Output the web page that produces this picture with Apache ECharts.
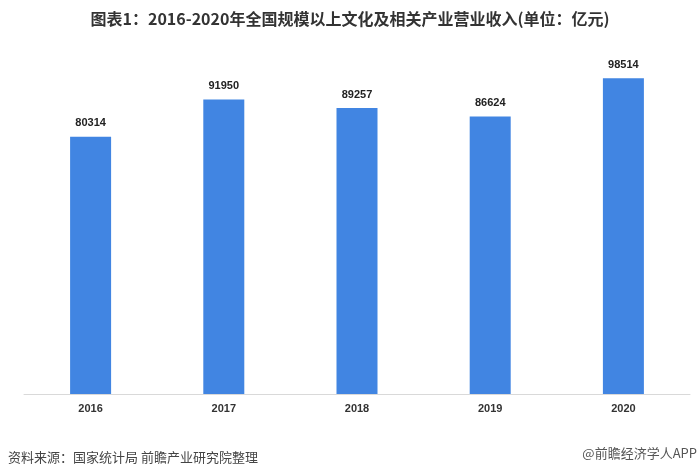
<!DOCTYPE html>
<html>
<head>
<meta charset="utf-8">
<script src="https://cdn.jsdelivr.net/npm/echarts@6/dist/echarts.min.js"></script>
<style>html,body{margin:0;padding:0;background:#fff;}#c{width:700px;height:476px;}</style>
</head>
<body>
<div id="c"></div>
<script>
const categories = ['2016', '2017', '2018', '2019', '2020'];
const revenue = [80314, 91950, 89257, 86624, 98514];
const titleText = '图表1：2016-2020年全国规模以上文化及相关产业营业收入(单位：亿元)';
const sourceText = '资料来源：国家统计局 前瞻产业研究院整理';
const creditText = '@前瞻经济学人APP';

const cjk = '"Noto Sans CJK SC", "Noto Sans", sans-serif';
const chart = echarts.init(document.getElementById('c'), null, {renderer: 'canvas'});
chart.setOption({
  backgroundColor: '#ffffff',
  animation: false,
  title: [
    {text: titleText, left: 'center', top: 11, padding: 0,
     textStyle: {fontFamily: cjk, fontSize: 16, fontWeight: 'bold', color: '#333333'}},
    {text: sourceText, left: 8, top: 451, padding: 0,
     textStyle: {fontFamily: cjk, fontSize: 13, fontWeight: 'normal', color: '#444444'}},
    {text: creditText, right: 3, top: 447, padding: 0,
     textStyle: {fontFamily: cjk, fontSize: 13, fontWeight: 'normal', color: '#555555'}}
  ],
  grid: {left: 24, right: 10, top: 9.5, bottom: 82, containLabel: false},
  xAxis: {
    type: 'category',
    data: categories,
    axisLine: {lineStyle: {color: '#d9d9d9', width: 1}},
    axisTick: {show: false},
    axisLabel: {fontFamily: '"Liberation Sans", Arial, sans-serif', fontSize: 11, fontWeight: 'bold', color: '#333333', margin: 9}
  },
  yAxis: {
    type: 'value', min: 0, max: 120000, show: false,
    splitLine: {show: false}
  },
  series: [{
    type: 'bar',
    data: revenue,
    barWidth: 41,
    itemStyle: {color: '#4185e2'},
    label: {
      show: true, position: 'top', distance: 8,
      fontFamily: '"Liberation Sans", Arial, sans-serif', fontSize: 11, fontWeight: 'bold', color: '#222222'
    }
  }]
});
</script>
</body>
</html>
